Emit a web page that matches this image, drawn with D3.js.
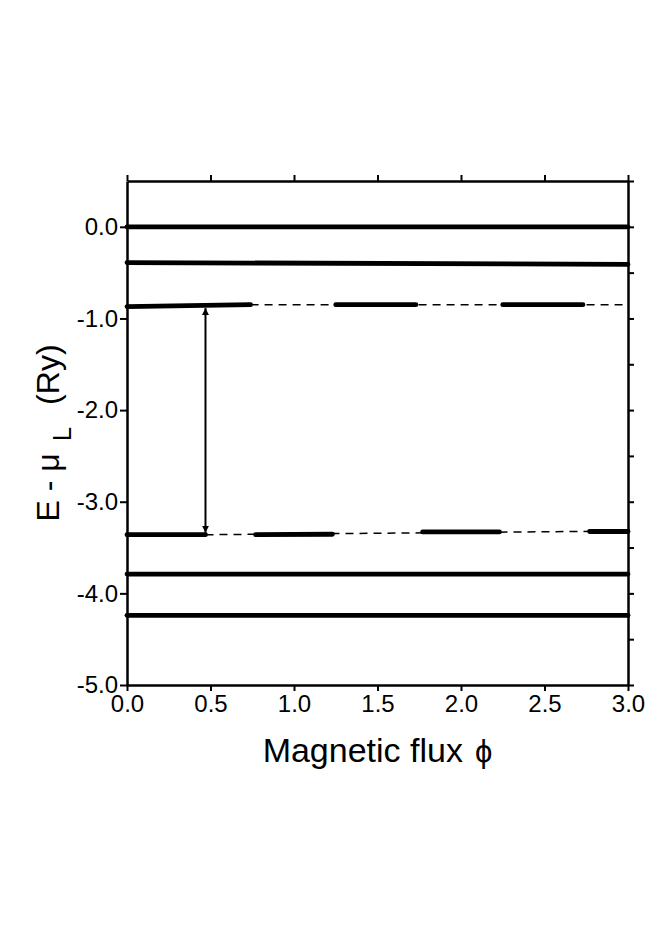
<!DOCTYPE html>
<html>
<head>
<meta charset="utf-8">
<script src="https://cdn.jsdelivr.net/npm/d3@7"></script>
<style>
  body { margin: 0; background: #fff; }
  svg { display: block; font-family: "Liberation Sans", Arial, sans-serif; }
</style>
</head>
<body>
<svg id="chart" width="664" height="949"></svg>
<script>
// Data (energy levels E - mu_L in Ry vs magnetic flux phi)
// -------------------------------------------------------
const xTicks = [0, 0.5, 1.0, 1.5, 2.0, 2.5, 3.0];
const yLabelTicks = [0, -1, -2, -3, -4, -5];
const yMinorTicks = [0.5, 0, -0.5, -1, -1.5, -2, -2.5, -3, -3.5, -4, -4.5, -5];

// flux-independent levels: [phi, E] pairs
const flatLevels = [
  [[0, 0.0], [3, 0.0]],
  [[0, -0.39], [3, -0.41]],
  [[0, -3.79], [3, -3.79]],
  [[0, -4.24], [3, -4.24]]
];

// upper oscillating level: thick parts where the state exists
const upperSegments = [
  [[0, -0.87], [0.74, -0.85]],
  [[1.25, -0.85], [1.73, -0.85]],
  [[2.25, -0.85], [2.73, -0.85]]
];
const upperGuide = [[0.74, -0.85], [3.0, -0.85]];

// lower oscillating level
const lowerSegments = [
  [[0, -3.36], [0.47, -3.36]],
  [[0.77, -3.36], [1.23, -3.355]],
  [[1.77, -3.33], [2.23, -3.33]],
  [[2.77, -3.325], [3.0, -3.325]]
];
const lowerGuide = [[0.47, -3.36], [3.0, -3.32]];

// gap marker
const gapArrow = { phi: 0.47, top: -0.865, bottom: -3.36 };

// Chart
// -----
const svg = d3.select("#chart");
const x = d3.scaleLinear().domain([0, 3]).range([127, 628]);
const y = d3.scaleLinear().domain([-5, 0.5]).range([685, 181]);
const fmt = d => d.toFixed(1);

const defs = svg.append("defs");
["start", "end"].forEach(k => {
  defs.append("marker")
    .attr("id", "head-" + k)
    .attr("viewBox", "0 0 10 10")
    .attr("refX", 10).attr("refY", 5)
    .attr("markerWidth", 7).attr("markerHeight", 7)
    .attr("markerUnits", "userSpaceOnUse")
    .attr("orient", k === "start" ? "auto-start-reverse" : "auto")
    .append("path")
    .attr("d", "M0,0 L10,5 L0,10 z")
    .attr("fill", "#000");
});

const line = d3.line().x(d => x(d[0])).y(d => y(d[1]));

// dashed guides
svg.selectAll(".guide").data([upperGuide, lowerGuide]).join("path")
  .attr("class", "guide")
  .attr("d", line)
  .attr("fill", "none").attr("stroke", "#000")
  .attr("stroke-width", 1.5)
  .attr("stroke-dasharray", "8,6");

// thick level lines
svg.selectAll(".level").data([...flatLevels, ...upperSegments, ...lowerSegments]).join("path")
  .attr("class", "level")
  .attr("d", line)
  .attr("fill", "none").attr("stroke", "#000")
  .attr("stroke-width", 4.8)
  .attr("stroke-linecap", "round");

// double arrow
svg.append("line")
  .attr("x1", x(gapArrow.phi)).attr("x2", x(gapArrow.phi))
  .attr("y1", y(gapArrow.top) + 2).attr("y2", y(gapArrow.bottom) - 2)
  .attr("stroke", "#000").attr("stroke-width", 2)
  .attr("marker-start", "url(#head-start)")
  .attr("marker-end", "url(#head-end)");

// Axes
// ----
function styleAxis(g) {
  g.select(".domain").attr("stroke-width", 2.5);
  g.selectAll(".tick line").attr("stroke-width", 2);
  g.selectAll(".tick text").attr("font-size", 24).attr("font-family", "Liberation Sans, Arial, sans-serif").attr("fill", "#000");
}

svg.append("g").attr("transform", `translate(0,${y(0.5)})`)
  .call(d3.axisTop(x).tickValues(xTicks).tickSize(6).tickSizeOuter(0).tickFormat(""))
  .call(styleAxis);

svg.append("g").attr("transform", `translate(${x(3)},0)`)
  .call(d3.axisRight(y).tickValues(yMinorTicks).tickSize(6).tickSizeOuter(0).tickFormat(""))
  .call(styleAxis);

svg.append("g").attr("transform", `translate(0,${y(-5)})`)
  .call(d3.axisBottom(x).tickValues(xTicks).tickSize(6).tickSizeOuter(0).tickPadding(4).tickFormat(fmt))
  .call(styleAxis);

svg.append("g").attr("transform", `translate(${x(0)},0)`)
  .call(d3.axisLeft(y).tickValues(yLabelTicks).tickSize(7).tickSizeOuter(0).tickPadding(2).tickFormat(fmt))
  .call(styleAxis);

// Axis titles
// -----------
const yTitle = svg.append("text")
  .attr("transform", `translate(59,${(y(0.5) + y(-5)) / 2}) rotate(-90)`)
  .attr("text-anchor", "middle")
  .attr("font-size", 32);
yTitle.append("tspan").text("E - \u03bc");
yTitle.append("tspan").attr("font-size", 26).attr("dx", 12).attr("dy", 12).text("L");
yTitle.append("tspan").attr("dx", 22).attr("dy", -12).text("(Ry)");

const xTitle = svg.append("text")
  .attr("x", (x(0) + x(3)) / 2).attr("y", 762)
  .attr("text-anchor", "middle")
  .attr("font-size", 34);
xTitle.append("tspan").text("Magnetic flux");
xTitle.append("tspan").attr("font-size", 31).attr("dx", 12).text("\u03d5");
</script>
</body>
</html>
